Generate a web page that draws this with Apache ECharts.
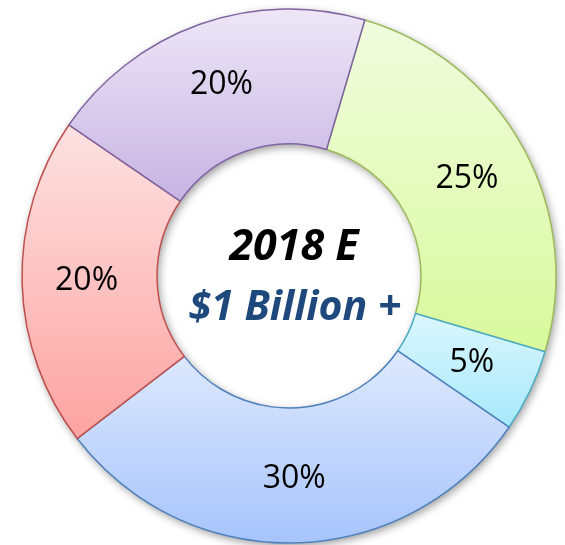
<!DOCTYPE html>
<html>
<head>
<meta charset="utf-8">
<script src="https://cdn.jsdelivr.net/npm/echarts@6/dist/echarts.min.js"></script>
<style>
  html, body { margin: 0; padding: 0; background: #fff; }
  #main { width: 565px; height: 545px; }
</style>
</head>
<body>
<div id="main"></div>
<script>
// slices clockwise, starting from the green one
var shares = [25, 5, 30, 20, 20];
var topColors = ['#f1fcdf', '#dcf7fe', '#dfe9fd', '#fde2e2', '#ede7f7'];
var bottomColors = ['#d8f99c', '#a6e8fa', '#a6c4fb', '#fca3a1', '#c6b3e2'];
var edgeColors = ['#9bbb59', '#4bacc6', '#4f81bd', '#c0504d', '#8064a2'];
var centerLines = ['2018 E', '$1 Billion +'];

var chart = echarts.init(document.getElementById('main'));

var pieData = [];
var shadowData = [];
for (var i = 0; i < shares.length; i++) {
  pieData.push({
    value: shares[i],
    itemStyle: {
      color: new echarts.graphic.LinearGradient(0, 0, 0, 1, [
        { offset: 0, color: topColors[i] },
        { offset: 1, color: bottomColors[i] }
      ]),
      borderColor: edgeColors[i]
    }
  });
  shadowData.push({ value: shares[i] });
}

var ring = { center: [289, 276], radius: [132, 267], startAngle: 73.5, clockwise: true };

var option = {
  animation: false,
  backgroundColor: '#ffffff',
  graphic: [
    {
      type: 'text',
      z: 100,
      style: {
        x: 294,
        y: 248,
        text: centerLines[0],
        textAlign: 'center',
        textVerticalAlign: 'middle',
        font: 'italic bold 43px "Open Sans"',
        fill: '#000000'
      }
    },
    {
      type: 'text',
      z: 100,
      style: {
        x: 295,
        y: 308,
        text: centerLines[1],
        textAlign: 'center',
        textVerticalAlign: 'middle',
        font: 'italic bold 41px "Open Sans"',
        fill: '#1f497d'
      }
    }
  ],
  series: [
    // soft drop shadow under the ring
    Object.assign({
      type: 'pie',
      z: 1,
      silent: true,
      label: { show: false },
      labelLine: { show: false },
      itemStyle: {
        color: '#ffffff',
        borderWidth: 0,
        shadowBlur: 8,
        shadowOffsetX: 2,
        shadowOffsetY: 3,
        shadowColor: 'rgba(0, 0, 0, 0.4)'
      },
      emphasis: { disabled: true },
      data: shadowData
    }, ring),
    Object.assign({
      type: 'pie',
      z: 2,
      avoidLabelOverlap: false,
      label: {
        show: true,
        position: 'inside',
        formatter: '{c}%',
        color: '#000',
        fontFamily: 'Open Sans',
        fontSize: 32
      },
      labelLine: { show: false },
      itemStyle: { borderWidth: 1.5 },
      emphasis: { disabled: true },
      data: pieData
    }, ring)
  ]
};

chart.setOption(option);
</script>
</body>
</html>
